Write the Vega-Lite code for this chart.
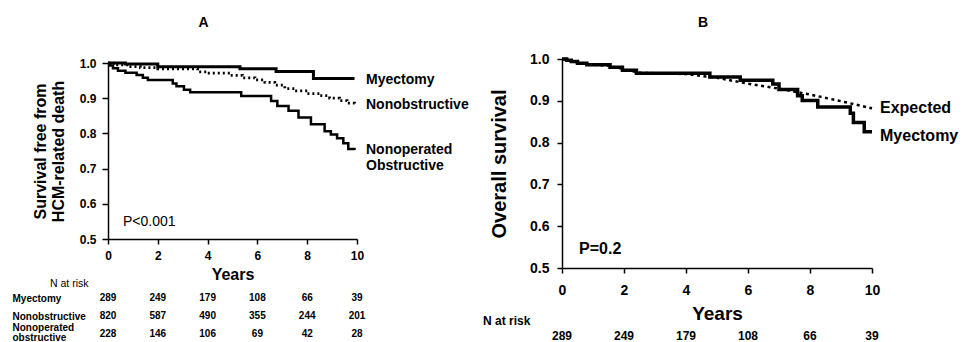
{
  "$schema": "https://vega.github.io/schema/vega-lite/v6.json",
  "background": "white",
  "padding": {"left": 12, "top": 16, "right": 0, "bottom": 0},
  "config": {
    "font": "Liberation Sans",
    "view": {"stroke": null},
    "axis": {"domainColor": "#000", "domainWidth": 1.5, "tickColor": "#000", "tickWidth": 1.5, "labelColor": "#000", "titleColor": "#000", "grid": false, "labelOverlap": false},
    "title": {"color": "#000"}
  },
  "datasets": {
    "kmA": [
      {"group": "Myectomy", "year": 0, "surv": 1.0},
      {"group": "Myectomy", "year": 0.7, "surv": 0.997},
      {"group": "Myectomy", "year": 2.0, "surv": 0.989},
      {"group": "Myectomy", "year": 5.3, "surv": 0.984},
      {"group": "Myectomy", "year": 6.75, "surv": 0.976},
      {"group": "Myectomy", "year": 8.25, "surv": 0.956},
      {"group": "Myectomy", "year": 9.9, "surv": 0.956},
      {"group": "Nonobstructive", "year": 0, "surv": 1.0},
      {"group": "Nonobstructive", "year": 0.3, "surv": 0.995},
      {"group": "Nonobstructive", "year": 0.85, "surv": 0.99},
      {"group": "Nonobstructive", "year": 1.3, "surv": 0.987},
      {"group": "Nonobstructive", "year": 2.0, "surv": 0.983},
      {"group": "Nonobstructive", "year": 3.6, "surv": 0.975},
      {"group": "Nonobstructive", "year": 4.0, "surv": 0.971},
      {"group": "Nonobstructive", "year": 4.9, "surv": 0.965},
      {"group": "Nonobstructive", "year": 5.4, "surv": 0.958},
      {"group": "Nonobstructive", "year": 5.9, "surv": 0.952},
      {"group": "Nonobstructive", "year": 6.3, "surv": 0.945},
      {"group": "Nonobstructive", "year": 6.7, "surv": 0.937},
      {"group": "Nonobstructive", "year": 7.1, "surv": 0.927},
      {"group": "Nonobstructive", "year": 7.5, "surv": 0.921},
      {"group": "Nonobstructive", "year": 8.0, "surv": 0.913},
      {"group": "Nonobstructive", "year": 8.5, "surv": 0.907},
      {"group": "Nonobstructive", "year": 8.9, "surv": 0.9},
      {"group": "Nonobstructive", "year": 9.3, "surv": 0.893},
      {"group": "Nonobstructive", "year": 9.6, "surv": 0.886},
      {"group": "Nonobstructive", "year": 9.9, "surv": 0.879},
      {"group": "Nonoperated obstructive", "year": 0, "surv": 1.0},
      {"group": "Nonoperated obstructive", "year": 0.08, "surv": 0.993},
      {"group": "Nonoperated obstructive", "year": 0.2, "surv": 0.985},
      {"group": "Nonoperated obstructive", "year": 0.4, "surv": 0.978},
      {"group": "Nonoperated obstructive", "year": 0.7, "surv": 0.972},
      {"group": "Nonoperated obstructive", "year": 1.15, "surv": 0.966},
      {"group": "Nonoperated obstructive", "year": 1.4, "surv": 0.958},
      {"group": "Nonoperated obstructive", "year": 1.6, "surv": 0.952},
      {"group": "Nonoperated obstructive", "year": 2.6, "surv": 0.942},
      {"group": "Nonoperated obstructive", "year": 2.75, "surv": 0.934},
      {"group": "Nonoperated obstructive", "year": 3.05, "surv": 0.924},
      {"group": "Nonoperated obstructive", "year": 3.3, "surv": 0.917},
      {"group": "Nonoperated obstructive", "year": 5.35, "surv": 0.906},
      {"group": "Nonoperated obstructive", "year": 6.55, "surv": 0.892},
      {"group": "Nonoperated obstructive", "year": 6.8, "surv": 0.878},
      {"group": "Nonoperated obstructive", "year": 7.25, "surv": 0.864},
      {"group": "Nonoperated obstructive", "year": 7.65, "surv": 0.845},
      {"group": "Nonoperated obstructive", "year": 8.15, "surv": 0.826},
      {"group": "Nonoperated obstructive", "year": 8.7, "surv": 0.806},
      {"group": "Nonoperated obstructive", "year": 8.95, "surv": 0.797},
      {"group": "Nonoperated obstructive", "year": 9.2, "surv": 0.786},
      {"group": "Nonoperated obstructive", "year": 9.45, "surv": 0.772},
      {"group": "Nonoperated obstructive", "year": 9.65, "surv": 0.756},
      {"group": "Nonoperated obstructive", "year": 9.9, "surv": 0.753}
    ],
    "kmB": [
      {"year": 0, "surv": 1.0},
      {"year": 0.15, "surv": 0.997},
      {"year": 0.3, "surv": 0.994},
      {"year": 0.5, "surv": 0.99},
      {"year": 0.8, "surv": 0.986},
      {"year": 1.55, "surv": 0.98},
      {"year": 1.95, "surv": 0.973},
      {"year": 2.4, "surv": 0.966},
      {"year": 4.77, "surv": 0.957},
      {"year": 5.75, "surv": 0.949},
      {"year": 6.8, "surv": 0.94},
      {"year": 7.0, "surv": 0.927},
      {"year": 7.6, "surv": 0.912},
      {"year": 7.75, "surv": 0.901},
      {"year": 8.25, "surv": 0.885},
      {"year": 9.3, "surv": 0.87},
      {"year": 9.4, "surv": 0.848},
      {"year": 9.75, "surv": 0.826},
      {"year": 10.0, "surv": 0.826}
    ],
    "expB": [
      {"year": 0, "surv": 1.0},
      {"year": 0.8, "surv": 0.987},
      {"year": 1.5, "surv": 0.984},
      {"year": 2.5, "surv": 0.967},
      {"year": 4.0, "surv": 0.964},
      {"year": 5.0, "surv": 0.955},
      {"year": 6.0, "surv": 0.941},
      {"year": 7.0, "surv": 0.929},
      {"year": 8.0, "surv": 0.915},
      {"year": 9.0, "surv": 0.899},
      {"year": 10.0, "surv": 0.882}
    ],
    "labelsA": [
      {"label": "Myectomy", "year": 10, "surv": 0.953},
      {"label": "Nonobstructive", "year": 10, "surv": 0.881},
      {"label": "Nonoperated\nObstructive", "year": 10, "surv": 0.753}
    ],
    "labelsB": [
      {"label": "Expected", "year": 10, "surv": 0.883},
      {"label": "Myectomy", "year": 10, "surv": 0.816}
    ],
    "pA": [{"label": "P<0.001", "year": 0.6, "surv": 0.548}],
    "pB": [{"label": "P=0.2", "year": 0.55, "surv": 0.545}],
    "riskA": [
      {"group": "Myectomy", "year": 0, "n": 289},
      {"group": "Myectomy", "year": 2, "n": 249},
      {"group": "Myectomy", "year": 4, "n": 179},
      {"group": "Myectomy", "year": 6, "n": 108},
      {"group": "Myectomy", "year": 8, "n": 66},
      {"group": "Myectomy", "year": 10, "n": 39},
      {"group": "Nonobstructive", "year": 0, "n": 820},
      {"group": "Nonobstructive", "year": 2, "n": 587},
      {"group": "Nonobstructive", "year": 4, "n": 490},
      {"group": "Nonobstructive", "year": 6, "n": 355},
      {"group": "Nonobstructive", "year": 8, "n": 244},
      {"group": "Nonobstructive", "year": 10, "n": 201},
      {"group": "Nonoperated obstructive", "year": 0, "n": 228},
      {"group": "Nonoperated obstructive", "year": 2, "n": 146},
      {"group": "Nonoperated obstructive", "year": 4, "n": 106},
      {"group": "Nonoperated obstructive", "year": 6, "n": 69},
      {"group": "Nonoperated obstructive", "year": 8, "n": 42},
      {"group": "Nonoperated obstructive", "year": 10, "n": 28}
    ],
    "riskB": [
      {"year": 0, "n": 289},
      {"year": 2, "n": 249},
      {"year": 4, "n": 179},
      {"year": 6, "n": 108},
      {"year": 8, "n": 66},
      {"year": 10, "n": 39}
    ]
  },
  "spacing": 14,
  "resolve": {"scale": {"x": "independent", "y": "independent", "strokeDash": "independent", "strokeWidth": "independent"}},
  "hconcat": [
    {
      "vconcat": [
        {
          "width": 249,
          "height": 180,
          "title": {"text": "A", "fontSize": 14, "fontWeight": "bold", "offset": 27, "dx": -29},
          "layer": [
            {
              "data": {"name": "kmA"},
              "mark": {"type": "line", "interpolate": "step-after", "color": "#000"},
              "encoding": {
                "x": {"field": "year", "type": "quantitative", "scale": {"domain": [0, 10]},
                  "axis": {"values": [0, 2, 4, 6, 8, 10], "tickCount": 6, "title": "Years", "labelFontSize": 12, "labelFontWeight": "bold", "titleFontSize": 16, "titleFontWeight": "bold", "tickSize": 5, "labelPadding": 6, "titlePadding": 5, "labelFlush": false}},
                "y": {"field": "surv", "type": "quantitative", "scale": {"domain": [0.5, 1], "range": [180, 4]},
                  "axis": {"values": [0.5, 0.6, 0.7, 0.8, 0.9, 1.0], "tickCount": 6, "format": ".1f", "labelOverlap": false, "title": ["Survival free from", "HCM-related death"], "titleFontSize": 16, "titleFontWeight": "bold", "titleLineHeight": 18, "labelFontSize": 12, "labelFontWeight": "bold", "tickSize": 6, "labelPadding": 6, "titlePadding": 13, "labelFlush": false}},
                "detail": {"field": "group"},
                "strokeDash": {"field": "group", "type": "nominal", "scale": {"domain": ["Myectomy", "Nonobstructive", "Nonoperated obstructive"], "range": [[1, 0], [2, 3], [1, 0]]}, "legend": null},
                "strokeWidth": {"field": "group", "type": "nominal", "scale": {"domain": ["Myectomy", "Nonobstructive", "Nonoperated obstructive"], "range": [3, 2.5, 1.4]}, "legend": null}
              }
            },
            {
              "data": {"name": "labelsA"},
              "mark": {"type": "text", "align": "left", "baseline": "middle", "dx": 9, "fontSize": 14, "fontWeight": "bold", "lineBreak": "\n", "lineHeight": 16, "color": "#000"},
              "encoding": {
                "x": {"field": "year", "type": "quantitative"},
                "y": {"field": "surv", "type": "quantitative"},
                "text": {"field": "label"}
              }
            },
            {
              "data": {"name": "pA"},
              "mark": {"type": "text", "align": "left", "baseline": "middle", "fontSize": 14, "color": "#000"},
              "encoding": {
                "x": {"field": "year", "type": "quantitative"},
                "y": {"field": "surv", "type": "quantitative"},
                "text": {"field": "label"}
              }
            }
          ]
        },
        {
          "width": 249,
          "height": 54,
          "title": {"text": "N at risk", "anchor": "start", "frame": "group", "dx": -58, "fontSize": 10.5, "fontWeight": "normal", "offset": 0},
          "data": {"name": "riskA"},
          "mark": {"type": "text", "fontSize": 10, "fontWeight": "bold", "color": "#000"},
          "encoding": {
            "x": {"field": "year", "type": "quantitative", "scale": {"domain": [0, 10]}, "axis": null},
            "y": {"field": "group", "type": "nominal", "sort": ["Myectomy", "Nonobstructive", "Nonoperated obstructive"],
              "axis": {"title": null, "domain": false, "ticks": false, "tickSize": 0, "labelAlign": "left", "labelPadding": 96, "labelFontSize": 10, "labelFontWeight": "bold", "labelLineHeight": 10,
                "labelOffset": {"condition": {"test": "datum.value == 'Nonoperated obstructive'", "value": -7}, "value": 0},
                "labelExpr": "datum.value == 'Nonoperated obstructive' ? ['Nonoperated', 'obstructive'] : datum.value"}},
            "text": {"field": "n"}
          }
        }
      ],
      "spacing": 50,
      "bounds": "flush"
    },
    {
      "vconcat": [
        {
          "width": 310,
          "height": 209,
          "title": {"text": "B", "fontSize": 14, "fontWeight": "bold", "offset": 22, "dx": -14},
          "layer": [
            {
              "data": {"name": "expB"},
              "mark": {"type": "line", "color": "#000", "strokeWidth": 2.5, "strokeDash": [3, 3.5]},
              "encoding": {
                "x": {"field": "year", "type": "quantitative", "scale": {"domain": [0, 10]},
                  "axis": {"values": [0, 2, 4, 6, 8, 10], "tickCount": 6, "title": "Years", "labelFontSize": 14, "labelFontWeight": "bold", "titleFontSize": 19, "titleFontWeight": "bold", "tickSize": 5, "labelPadding": 10, "titlePadding": 7, "labelFlush": false}},
                "y": {"field": "surv", "type": "quantitative", "scale": {"domain": [0.5, 1]},
                  "axis": {"values": [0.5, 0.6, 0.7, 0.8, 0.9, 1.0], "tickCount": 6, "format": ".1f", "labelOverlap": false, "title": "Overall survival", "titleFontSize": 20, "titleFontWeight": "bold", "labelFontSize": 14, "labelFontWeight": "bold", "tickSize": 5, "labelPadding": 8, "titlePadding": 20, "labelFlush": false}}
              }
            },
            {
              "data": {"name": "kmB"},
              "mark": {"type": "line", "interpolate": "step-after", "color": "#000", "strokeWidth": 3.5},
              "encoding": {
                "x": {"field": "year", "type": "quantitative"},
                "y": {"field": "surv", "type": "quantitative"}
              }
            },
            {
              "data": {"name": "labelsB"},
              "mark": {"type": "text", "align": "left", "baseline": "middle", "dx": 8, "fontSize": 16, "fontWeight": "bold", "color": "#000"},
              "encoding": {
                "x": {"field": "year", "type": "quantitative"},
                "y": {"field": "surv", "type": "quantitative"},
                "text": {"field": "label"}
              }
            },
            {
              "data": {"name": "pB"},
              "mark": {"type": "text", "align": "left", "baseline": "middle", "fontSize": 16, "fontWeight": "bold", "color": "#000"},
              "encoding": {
                "x": {"field": "year", "type": "quantitative"},
                "y": {"field": "surv", "type": "quantitative"},
                "text": {"field": "label"}
              }
            }
          ]
        },
        {
          "width": 310,
          "height": 16,
          "title": {"text": "N at risk", "anchor": "start", "frame": "group", "dx": -79, "fontSize": 12, "fontWeight": "bold", "offset": 0},
          "data": {"name": "riskB"},
          "mark": {"type": "text", "fontSize": 12, "fontWeight": "bold", "color": "#000"},
          "encoding": {
            "x": {"field": "year", "type": "quantitative", "scale": {"domain": [0, 10]}, "axis": null},
            "text": {"field": "n"}
          }
        }
      ],
      "spacing": 60,
      "bounds": "flush"
    }
  ]
}
